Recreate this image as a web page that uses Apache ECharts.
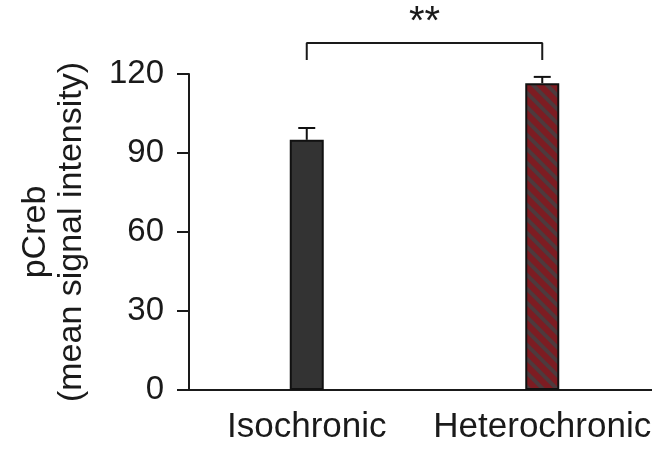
<!DOCTYPE html>
<html>
<head>
<meta charset="utf-8">
<script src="https://cdn.jsdelivr.net/npm/echarts@6/dist/echarts.min.js"></script>
<style>
  html, body { margin: 0; padding: 0; background: #fff; }
  #chart { width: 652px; height: 449px; }
</style>
</head>
<body>
<div id="chart"></div>
<script>
// data
var groups = ['Isochronic', 'Heterochronic'];
var means = [95, 116.5];
var errors = [4.5, 2.4];
var yTicks = [0, 30, 60, 90, 120];
var bracketLow = 125.3;   // bracket leg ends
var bracketHigh = 131.8;  // bracket top
var starLevel = 147;
var starText = '**';

var font = '"Liberation Sans", Arial, sans-serif';
var ink = '#1a1a1a';

// diagonal hatch for the heterochronic bar
function hatch() {
    var c = document.createElement('canvas');
    c.width = 14; c.height = 14;
    var ctx = c.getContext('2d');
    ctx.fillStyle = '#7d1c22';
    ctx.fillRect(0, 0, 14, 14);
    ctx.strokeStyle = '#4e3a3d';
    ctx.lineWidth = 4;
    for (var k = -1; k <= 1; k++) {
        ctx.beginPath();
        ctx.moveTo(-2, -2 + 14 * k);
        ctx.lineTo(16, 16 + 14 * k);
        ctx.stroke();
    }
    return c;
}

var chart = echarts.init(document.getElementById('chart'));
var fills = ['#333333', {image: hatch(), repeat: 'repeat'}];

var option = {
    animation: false,
    backgroundColor: '#fff',
    grid: {left: 189, right: -8, top: 74, bottom: 59, containLabel: false, outerBoundsMode: 'none'},
    xAxis: {
        type: 'category',
        data: groups,
        boundaryGap: true,
        axisLine: {lineStyle: {color: ink, width: 2}},
        axisTick: {alignWithLabel: true, length: 12, lineStyle: {color: ink, width: 2}},
        axisLabel: {color: ink, fontFamily: font, fontSize: 35, margin: 20, interval: 0, hideOverlap: false}
    },
    yAxis: {
        type: 'value',
        min: yTicks[0],
        max: yTicks[yTicks.length - 1],
        interval: yTicks[1] - yTicks[0],
        name: 'pCreb\n(mean signal intensity)',
        nameLocation: 'middle',
        nameGap: 99,
        nameRotate: 90,
        nameTextStyle: {color: ink, fontFamily: font, fontSize: 34, lineHeight: 36},
        splitLine: {show: false},
        axisLine: {show: true, lineStyle: {color: ink, width: 2}},
        axisTick: {show: true, length: 12, lineStyle: {color: ink, width: 2}},
        axisLabel: {color: ink, fontFamily: font, fontSize: 33, margin: 25}
    },
    series: [{
        type: 'bar',
        barWidth: 34,
        data: means.map(function (v, i) {
            return {value: v, itemStyle: {color: fills[i]}};
        }),
        itemStyle: {borderColor: '#111', borderWidth: 2},
        z: 2
    }, {
        type: 'custom',
        z: 3,
        data: means.map(function (v, i) { return [i, v, v + errors[i]]; }),
        renderItem: function (params, api) {
            var lo = api.coord([api.value(0), api.value(1)]);
            var hi = api.coord([api.value(0), api.value(2)]);
            var style = {stroke: '#111', lineWidth: 2};
            return {
                type: 'group',
                children: [
                    {type: 'line', shape: {x1: lo[0], y1: lo[1], x2: hi[0], y2: hi[1]}, style: style},
                    {type: 'line', shape: {x1: hi[0] - 8.5, y1: hi[1], x2: hi[0] + 8.5, y2: hi[1]}, style: style}
                ]
            };
        }
    }, {
        type: 'line',
        clip: false,
        symbol: 'none',
        silent: true,
        lineStyle: {color: ink, width: 2},
        data: [[groups[0], bracketLow], [groups[0], bracketHigh], [groups[1], bracketHigh], [groups[1], bracketLow]]
    }]
};
chart.setOption(option);

// significance stars centred over the bracket
var p0 = chart.convertToPixel({gridIndex: 0}, [0, starLevel]);
var p1 = chart.convertToPixel({gridIndex: 0}, [1, starLevel]);
chart.setOption({
    graphic: [{
        type: 'text',
        x: (p0[0] + p1[0]) / 2,
        y: p0[1],
        style: {text: starText, fill: ink, font: '40px ' + font, align: 'center', verticalAlign: 'top'}
    }]
});
</script>
</body>
</html>
